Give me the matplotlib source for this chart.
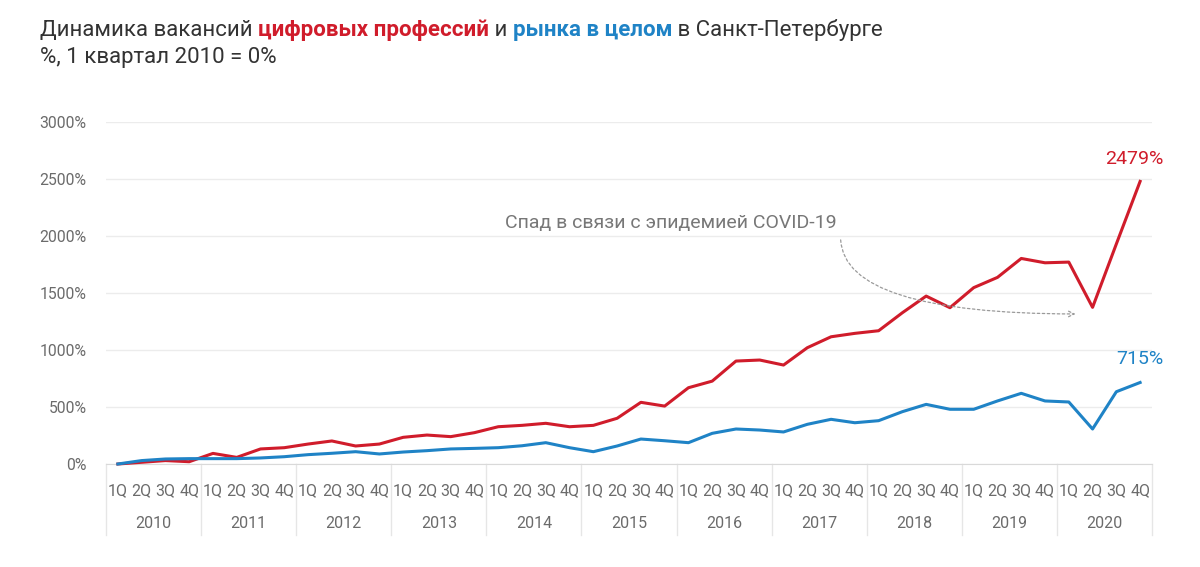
import matplotlib.pyplot as plt
import matplotlib.transforms as mtransforms

plt.rcParams['font.family'] = ['Roboto', 'DejaVu Sans']

# Data
years = ['2010', '2011', '2012', '2013', '2014', '2015', '2016', '2017', '2018', '2019', '2020']
quarters = ['1Q', '2Q', '3Q', '4Q']
digital = [0, 15, 30, 20,
           93, 58, 132, 143,
           175, 202, 158, 175,
           234, 254, 240, 275,
           327, 339, 357, 327,
           339, 401, 541, 508,
           669, 727, 903, 912,
           868, 1020, 1116, 1146,
           1169, 1327, 1473, 1371,
           1547, 1637, 1803, 1765,
           1771, 1374, 1930, 2479]
market = [0, 30, 44, 47,
          47, 47, 53, 64,
          82, 94, 108, 88,
          105, 117, 132, 137,
          143, 160, 187, 143,
          108, 158, 219, 204,
          187, 269, 307, 298,
          281, 348, 392, 362,
          380, 459, 523, 480,
          480, 553, 620, 553,
          544, 307, 634, 715]

red = '#d01c2b'
blue = '#1f83c6'
grey_txt = '#6b6b6b'

fig = plt.figure(figsize=(12, 5.67), dpi=100)
ax = fig.add_axes([106 / 1200, 1 - 464 / 567, 1046 / 1200, 342 / 567])

x = list(range(len(digital)))
ax.plot(x, digital, color=red, lw=2.2, clip_on=False, zorder=3)
ax.plot(x, market, color=blue, lw=2.2, clip_on=False, zorder=3)

ax.set_xlim(-0.5, len(digital) - 0.5)
ax.set_ylim(0, 3000)
ax.set_yticks(range(0, 3001, 500))
ax.set_yticklabels([f'{v}%' for v in range(0, 3001, 500)], color=grey_txt, fontsize=11.3)
ax.grid(axis='y', color='#ececec', lw=1)
ax.set_axisbelow(True)
for s in ['top', 'right', 'left']:
    ax.spines[s].set_visible(False)
ax.spines['bottom'].set_color('#d9d9d9')
ax.tick_params(axis='both', length=0)
ax.tick_params(axis='y', pad=14)

ax.set_xticks(x)
ax.set_xticklabels(quarters * len(years), color=grey_txt, fontsize=11.5)
ax.tick_params(axis='x', pad=14)

# year labels and separators below the axis
trans = mtransforms.blended_transform_factory(ax.transData, ax.transAxes)
for i, yr in enumerate(years):
    ax.text(i * 4 + 1.5, -0.173, yr, transform=trans, ha='center', va='center',
            color=grey_txt, fontsize=11.5)
for i in range(len(years) + 1):
    ax.plot([i * 4 - 0.5, i * 4 - 0.5], [0, -0.208], transform=trans,
            color='#e6e6e6', lw=1, clip_on=False)

# end labels
ax.annotate(f'{digital[-1]}%', (x[-1], digital[-1]), xytext=(17, 16),
            textcoords='offset points', ha='right', va='center', color=red, fontsize=14)
ax.annotate(f'{market[-1]}%', (x[-1], market[-1]), xytext=(17, 17),
            textcoords='offset points', ha='right', va='center', color=blue, fontsize=14)

# COVID annotation
ax.text(16.3, 2115, 'Спад в связи с эпидемией COVID-19', color='#777777', fontsize=14,
        va='center', ha='left')
ax.annotate('', xy=(40.4, 1316), xytext=(30.4, 1990),
            arrowprops=dict(arrowstyle='->', color='#9a9a9a', lw=0.9, linestyle=(0, (2, 2)),
                            connectionstyle='angle3,angleA=90,angleB=0'))

# title with coloured parts
fig.canvas.draw()
renderer = fig.canvas.get_renderer()
parts = [('Динамика вакансий ', '#333333', 'normal'),
         ('цифровых профессий', red, 'bold'),
         (' и ', '#333333', 'normal'),
         ('рынка в целом', blue, 'bold'),
         (' в Санкт-Петербурге', '#333333', 'normal')]
xpos = 40
for txt, col, wt in parts:
    t = fig.text(xpos / 1200, 1 - 30 / 567, txt, color=col, fontweight=wt, fontsize=16,
                 va='center', ha='left')
    bb = t.get_window_extent(renderer)
    xpos += bb.width
fig.text(40 / 1200, 1 - 58 / 567, '%, 1 квартал 2010 = 0%', color='#333333', fontsize=16,
         va='center', ha='left')

fig.savefig('out.png', dpi=100)
